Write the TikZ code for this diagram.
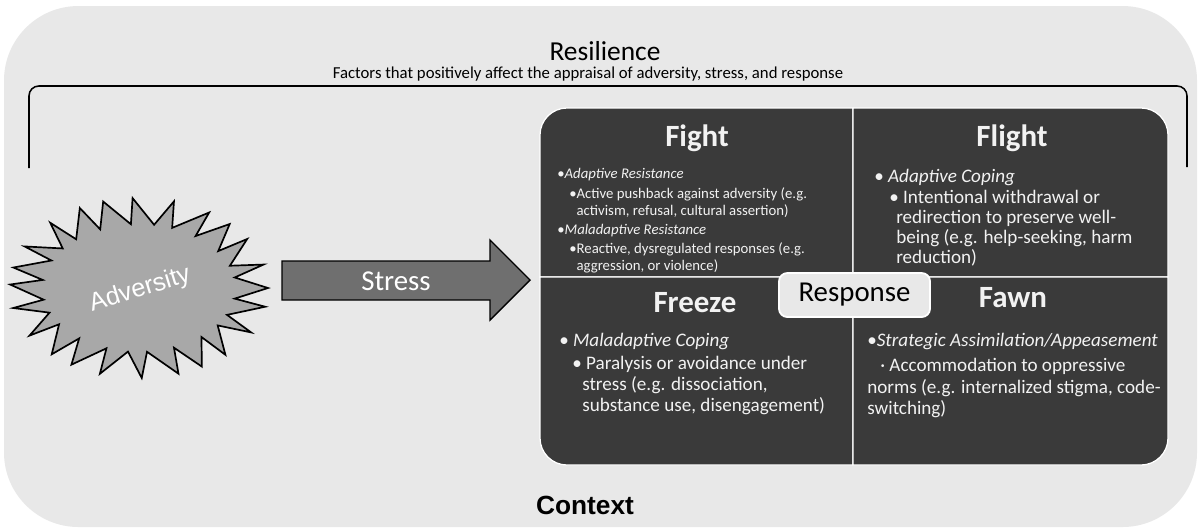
\documentclass[tikz,border=0pt]{standalone}
\usepackage{fontspec}
\setmainfont{Carlito}
\newfontfamily\arialf{Liberation Sans}
\definecolor{bgc}{HTML}{E8E8E8}
\definecolor{qdark}{HTML}{3A3A3A}
\definecolor{qtext}{HTML}{F2F2F2}
\definecolor{arrowc}{HTML}{6F6F6F}
\definecolor{burstc}{HTML}{A8A8A8}
\begin{document}
\begin{tikzpicture}[x=0.025cm,y=-0.025cm,
  quad/.style={fill=qdark, draw=white, line width=0.9pt},
  qtitle/.style={font=\fontsize{22}{26}\selectfont\bfseries, text=qtext, inner sep=0pt, text height=14.2pt, text depth=0pt},
  fline/.style={anchor=west, inner sep=0pt, text=qtext, font=\fontsize{10.5}{12}\selectfont, text height=6.8pt, text depth=0pt},
  bline/.style={anchor=west, inner sep=0pt, text=qtext, font=\fontsize{13.6}{16}\selectfont, text height=8.8pt, text depth=0pt},
  burst/.style={fill=burstc, draw=black, line width=1.2pt, line join=miter},
  arrowst/.style={fill=arrowc, draw=black, line width=1pt},
  brk/.style={draw=black, line width=1.1pt, rounded corners=7pt},
  respbox/.style={fill=bgc, draw=white, line width=1.3pt, rounded corners=6pt, minimum width=3.775cm, minimum height=1.1cm, inner sep=0pt, font=\fontsize{20.5}{24}\selectfont, text=black},
]
\useasboundingbox (0,0) rectangle (1200,529);
\fill[white] (0,0) rectangle (1200,529);
\fill[bgc, rounded corners=53pt] (4,6) rectangle (1197,527);

% titles on top
\node[font=\fontsize{19.5}{23}\selectfont, inner sep=0pt, text height=12.6pt, text depth=0pt] (resil) at (605,52) {Resilience};
\node[font=\fontsize{11.9}{14}\selectfont, inner sep=0pt, text height=7.7pt, text depth=0pt] (factors) at (588,73) {Factors that positively affect the appraisal of adversity, stress, and response};

% bracket
\draw[brk] (29,168) -- (29,86) -- (1187,86) -- (1187,167);

% adversity starburst
\draw[burst] (268,288) \foreach \k [evaluate=\k as \ang using {\k*7.5+3*sin(\k*137)}, evaluate=\k as \rx using {ifthenelse(mod(\k,2)==0,129,97)}, evaluate=\k as \ry using {ifthenelse(mod(\k,2)==0,90,64)}] in {1,...,47} {-- ({139+\rx*cos(\ang)},{288+\ry*sin(\ang)})} -- cycle;
\node[font=\arialf\fontsize{18}{21}\selectfont, text=white, rotate=17, inner sep=0pt] (adv) at (140,290) {Adversity};

% stress arrow
\draw[arrowst] (282,261) -- (490,261) -- (490,240) -- (530,280) -- (490,320) -- (490,300) -- (282,300) -- cycle;
\node[font=\fontsize{20.5}{24}\selectfont, text=white, inner sep=0pt, text height=13.2pt, text depth=0pt] (stress) at (396,281) {Stress};

% quadrants
\path[quad] (853,277) -- (540,277) -- (540,135) arc(180:270:27) -- (853,108) -- cycle;
\path[quad] (853,108) -- (1141,108) arc(270:360:27) -- (1168,277) -- (853,277) -- cycle;
\path[quad] (540,277) -- (853,277) -- (853,465) -- (567,465) arc(90:180:27) -- cycle;
\path[quad] (853,277) -- (1168,277) -- (1168,438) arc(0:90:27) -- (853,465) -- cycle;

% Fight
\node[qtitle] (fight) at (697,137) {Fight};
\node[fline] (f1) at (557,174) {•\textit{Adaptive Resistance}};
\node[fline] (f2) at (569,194) {•Active pushback against adversity (e.g.};
\node[fline] (f3) at (569,211) {\phantom{•}activism, refusal, cultural assertion)};
\node[fline] (f4) at (557,230) {•\textit{Maladaptive Resistance}};
\node[fline] (f5) at (569,249) {•Reactive, dysregulated responses (e.g.};
\node[fline] (f6) at (569,266) {\phantom{•}aggression, or violence)};

% Flight
\node[qtitle] (flight) at (1012,137) {Flight};
\node[bline] (l1) at (874,176) {• \textit{Adaptive Coping}};
\node[bline] (l2) at (889,197) {• Intentional withdrawal or};
\node[bline] (l3) at (896,217) {redirection to preserve well-};
\node[bline] (l4) at (896,237) {being (e.g. help-seeking, harm};
\node[bline] (l5) at (896,257) {reduction)};

% Freeze
\node[qtitle] (freeze) at (695,303) {Freeze};
\node[bline] (z1) at (559,340) {• \textit{Maladaptive Coping}};
\node[bline] (z2) at (572,363) {• Paralysis or avoidance under};
\node[bline] (z3) at (582,384) {stress (e.g. dissociation,};
\node[bline] (z4) at (582,405) {substance use, disengagement)};

% Fawn
\node[qtitle] (fawn) at (1013,298) {Fawn};
\node[bline] (w1) at (867,340) {•\textit{Strategic Assimilation/Appeasement}};
\node[bline] (w2) at (880,365) {· Accommodation to oppressive};
\node[bline] (w3) at (867,387) {norms (e.g. internalized stigma, code-};
\node[bline] (w4) at (867,408) {switching)};

% response
\node[respbox] (resp) at (854.5,295) {Response};

% context
\node[font=\arialf\bfseries\fontsize{18.7}{22}\selectfont, inner sep=0pt] (context) at (585,505) {Context};
\end{tikzpicture}
\end{document}
